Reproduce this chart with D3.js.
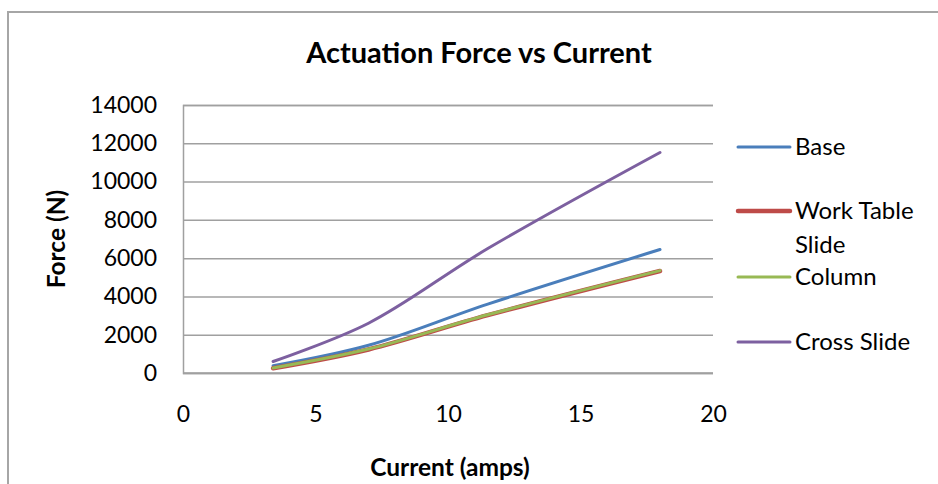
<!DOCTYPE html>
<html>
<head>
<meta charset="utf-8">
<script src="https://cdn.jsdelivr.net/npm/d3@7"></script>
<style>
  html, body { margin: 0; padding: 0; background: #fff; }
  svg { display: block; font-family: Lato, "Open Sans", sans-serif; }
</style>
</head>
<body>
<svg id="chart" width="938" height="484"></svg>
<script>
// ---- data ----
const currents = [3.4, 7, 11.5, 18];
const baseForce = [380, 1450, 3600, 6450];
const workTableForce = [250, 1230, 3020, 5330];
const columnForce = [265, 1250, 3040, 5350];
const crossSlideForce = [600, 2600, 6500, 11520];

const seriesNames = ["Base", "Work Table Slide", "Column", "Cross Slide"];
const seriesColors = ["#4A7EBB", "#BE4B48", "#98B954", "#7D60A0"];
const seriesWidths = [3, 4.5, 3, 3];
const yTicks = [0, 2000, 4000, 6000, 8000, 10000, 12000, 14000];
const xTicks = [0, 5, 10, 15, 20];

const title = "Actuation Force vs Current";
const xTitle = "Current (amps)";
const yTitle = "Force (N)";

// ---- layout ----
const svg = d3.select("#chart");
const plot = { left: 183, right: 713, top: 105, bottom: 373 };

const x = d3.scaleLinear().domain([0, 20]).range([plot.left, plot.right]);
const y = d3.scaleLinear().domain([0, 14000]).range([plot.bottom, plot.top]);

// outer chart border
svg.append("rect")
  .attr("x", 8).attr("y", 12)
  .attr("width", 960).attr("height", 500)
  .attr("fill", "none").attr("stroke", "#a6a6a6").attr("stroke-width", 2);

// title
svg.append("text")
  .attr("x", 479).attr("y", 63)
  .attr("text-anchor", "middle")
  .attr("font-weight", "bold")
  .attr("font-size", 29)
  .attr("fill", "#000")
  .text(title);

// gridlines
const grid = svg.append("g")
  .attr("transform", `translate(${plot.left},0)`)
  .call(d3.axisLeft(y).tickValues(yTicks).tickSize(-(plot.right - plot.left)).tickFormat(""));
grid.selectAll("line").attr("stroke", "#a0a0a0").attr("stroke-width", 1.5);
grid.select(".domain").attr("stroke", "#a0a0a0").attr("stroke-width", 1.5);

// y tick labels
const yAxis = svg.append("g")
  .attr("transform", `translate(${plot.left},0)`)
  .call(d3.axisLeft(y).tickValues(yTicks).tickSize(0).tickPadding(26).tickFormat(d3.format("d")));
yAxis.select(".domain").remove();
yAxis.selectAll("text")
  .attr("font-family", "Lato, 'Open Sans', sans-serif")
  .attr("font-size", 23).attr("fill", "#000");

// x tick labels
const xAxis = svg.append("g")
  .attr("transform", `translate(0,${plot.bottom})`)
  .call(d3.axisBottom(x).tickValues(xTicks).tickSize(0).tickPadding(33).tickFormat(d3.format("d")));
xAxis.select(".domain").remove();
xAxis.selectAll("text")
  .attr("font-family", "Lato, 'Open Sans', sans-serif")
  .attr("font-size", 23).attr("fill", "#000");

// x axis baseline
svg.append("line")
  .attr("x1", plot.left).attr("x2", plot.right)
  .attr("y1", y(0)).attr("y2", y(0))
  .attr("stroke", "#a0a0a0").attr("stroke-width", 1.5);

// axis titles
svg.append("text")
  .attr("x", 450).attr("y", 476)
  .attr("text-anchor", "middle")
  .attr("font-weight", "bold").attr("font-size", 24.5)
  .text(xTitle);
svg.append("text")
  .attr("transform", `translate(65,${(plot.top + plot.bottom) / 2}) rotate(-90)`)
  .attr("text-anchor", "middle")
  .attr("font-weight", "bold").attr("font-size", 24.5)
  .text(yTitle);

// lines
const allSeries = [baseForce, workTableForce, columnForce, crossSlideForce];
const line = d3.line()
  .x(d => x(d[0]))
  .y(d => y(d[1]))
  .curve(d3.curveCatmullRom.alpha(0.5));

allSeries.forEach((vals, i) => {
  const pts = currents.map((c, j) => [c, vals[j]]);
  svg.append("path")
    .datum(pts)
    .attr("d", line)
    .attr("fill", "none")
    .attr("stroke", seriesColors[i])
    .attr("stroke-width", seriesWidths[i])
    .attr("stroke-linecap", "round")
    .attr("stroke-linejoin", "round");
});

// legend
const legendRows = [
  { name: ["Base"], y: 147 },
  { name: ["Work Table", "Slide"], y: 211 },
  { name: ["Column"], y: 277 },
  { name: ["Cross Slide"], y: 342 }
];
const legend = svg.append("g");
legendRows.forEach((r, i) => {
  legend.append("line")
    .attr("x1", 738).attr("x2", 790)
    .attr("y1", r.y).attr("y2", r.y)
    .attr("stroke", seriesColors[i])
    .attr("stroke-width", seriesWidths[i])
    .attr("stroke-linecap", "round");
  const t = legend.append("text")
    .attr("x", 795).attr("y", r.y + 8)
    .attr("font-size", 24).attr("fill", "#000");
  r.name.forEach((part, k) => {
    t.append("tspan").attr("x", 795).attr("dy", k === 0 ? 0 : 34).text(part);
  });
});
</script>
</body>
</html>
